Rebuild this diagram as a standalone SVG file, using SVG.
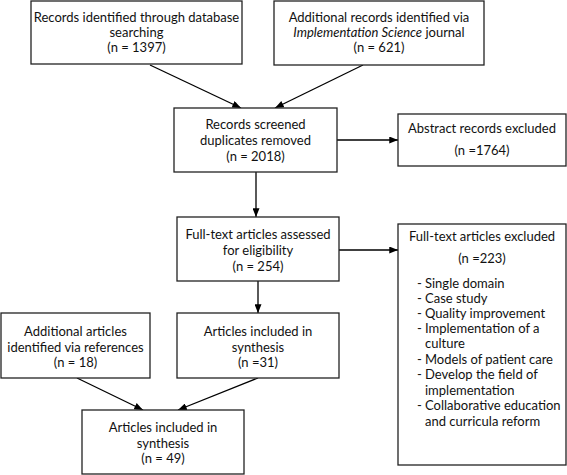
<svg xmlns="http://www.w3.org/2000/svg" width="567" height="475" viewBox="0 0 567 475">
<defs>
<marker id="ah" viewBox="0 0 10 8" refX="10" refY="4" markerWidth="9" markerHeight="7" markerUnits="userSpaceOnUse" orient="auto">
<path d="M0,0 L10,4 L0,8 Z" fill="#000"/>
</marker>
<style>
rect{fill:#fff;stroke:#222;stroke-width:1.3}
text{font-family:Lato,"Liberation Sans",sans-serif;font-size:13px;fill:#111}
.c{text-anchor:middle}
.conn line{stroke:#000;stroke-width:1.3;marker-end:url(#ah)}
</style>
</defs>
<rect x="0" y="0" width="567" height="475" style="fill:#fff;stroke:none"/>
<g class="conn" id="connectors">
<line x1="150" y1="65" x2="241" y2="108"/>
<line x1="363" y1="65" x2="275" y2="108"/>
<line x1="256" y1="172" x2="256" y2="217"/>
<line x1="337" y1="140" x2="398" y2="140"/>
<line x1="339" y1="250" x2="398" y2="250"/>
<line x1="258" y1="281" x2="258" y2="313"/>
<line x1="77" y1="378" x2="143" y2="410"/>
<line x1="258" y1="378" x2="178" y2="410"/>
</g>
<g id="n1">
<rect x="31" y="1" width="211" height="63"/>
<text class="c" x="136.5" y="22">Records identified through database</text>
<text class="c" x="136.5" y="37">searching</text>
<text class="c" x="136.5" y="52">(n = 1397)</text>
</g>
<g id="n2">
<rect x="274" y="1" width="210" height="64"/>
<text class="c" x="379" y="22">Additional records identified via</text>
<text class="c" x="379" y="37"><tspan font-style="italic">Implementation Science</tspan> journal</text>
<text class="c" x="379" y="52">(n = 621)</text>
</g>
<g id="n3">
<rect x="174" y="108" width="163" height="64"/>
<text class="c" x="255.5" y="129">Records screened</text>
<text class="c" x="255.5" y="145">duplicates removed</text>
<text class="c" x="255.5" y="161">(n = 2018)</text>
</g>
<g id="n4">
<rect x="398" y="114" width="168" height="52"/>
<text class="c" x="482" y="133">Abstract records excluded</text>
<text class="c" x="482" y="155">(n =1764)</text>
</g>
<g id="n5">
<rect x="177" y="217" width="162" height="64"/>
<text class="c" x="258" y="239">Full-text articles assessed</text>
<text class="c" x="258" y="255">for eligibility</text>
<text class="c" x="258" y="271">(n = 254)</text>
</g>
<g id="n6">
<rect x="398" y="224" width="168" height="241"/>
<text class="c" x="482" y="241">Full-text articles excluded</text>
<text class="c" x="482" y="263">(n =223)</text>
<text x="417" y="288">-</text><text x="425" y="288">Single domain</text>
<text x="417" y="303">-</text><text x="425" y="303">Case study</text>
<text x="417" y="318">-</text><text x="425" y="318">Quality improvement</text>
<text x="417" y="333">-</text><text x="425" y="333">Implementation of a</text>
<text x="425" y="348">culture</text>
<text x="417" y="364">-</text><text x="425" y="364">Models of patient care</text>
<text x="417" y="379">-</text><text x="425" y="379">Develop the field of</text>
<text x="425" y="395">implementation</text>
<text x="417" y="410">-</text><text x="425" y="410">Collaborative education</text>
<text x="425" y="426">and curricula reform</text>
</g>
<g id="n7">
<rect x="1" y="313" width="149" height="65"/>
<text class="c" x="75.5" y="336">Additional articles</text>
<text class="c" x="75.5" y="352">identified via references</text>
<text class="c" x="75.5" y="367">(n = 18)</text>
</g>
<g id="n8">
<rect x="177" y="313" width="162" height="65"/>
<text class="c" x="258" y="336">Articles included in</text>
<text class="c" x="258" y="352">synthesis</text>
<text class="c" x="258" y="367">(n =31)</text>
</g>
<g id="n9">
<rect x="82" y="410" width="162" height="64"/>
<text class="c" x="163" y="432">Articles included in</text>
<text class="c" x="163" y="448">synthesis</text>
<text class="c" x="163" y="463">(n = 49)</text>
</g>
</svg>
